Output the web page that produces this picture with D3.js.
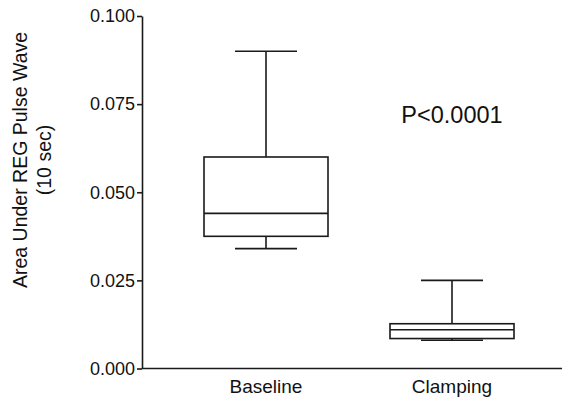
<!DOCTYPE html>
<html>
<head>
<meta charset="utf-8">
<script src="https://cdn.jsdelivr.net/npm/d3@7"></script>
<style>
  html, body { margin: 0; padding: 0; background: #fff; }
  svg { display: block; font-family: "Liberation Sans", Arial, sans-serif; }
</style>
</head>
<body>
<svg id="chart" width="565" height="403"></svg>
<script>
// Box-plot summaries per group
const categories = ["Baseline", "Clamping"];
const whiskerMax = [0.090, 0.025];
const q3 = [0.060, 0.0127];
const median = [0.044, 0.011];
const q1 = [0.0375, 0.0085];
const whiskerMin = [0.034, 0.008];
const yTicks = [0.000, 0.025, 0.050, 0.075, 0.100];
const annotation = "P<0.0001";

const svg = d3.select("#chart");
const stroke = "#1a1a1a";

const axisX = 142, axisY0 = 368.5, axisTop = 16, axisRight = 562;

const y = d3.scaleLinear().domain([0, 0.1]).range([axisY0, axisTop]);
const x = d3.scalePoint().domain(categories).range([266, 452]);

const boxW = 124, capW = 62;

// Y axis
const yAxis = svg.append("g")
  .attr("transform", `translate(${axisX},0)`)
  .call(d3.axisLeft(y).tickValues(yTicks).tickFormat(d3.format(".3f")).tickSize(5).tickSizeOuter(0).tickPadding(2));
yAxis.select(".domain").attr("stroke", stroke).attr("stroke-width", 1.6);
yAxis.selectAll(".tick line").attr("stroke", stroke).attr("stroke-width", 1.6);
yAxis.selectAll(".tick text").attr("font-size", 18).attr("fill", "#111")
  .attr("font-family", "'Liberation Sans', Arial, sans-serif");

// X axis baseline
svg.append("line")
  .attr("x1", axisX).attr("x2", axisRight)
  .attr("y1", y(0)).attr("y2", y(0))
  .attr("stroke", stroke).attr("stroke-width", 1.6);

// Category labels
svg.selectAll("text.cat").data(categories).join("text")
  .attr("class", "cat")
  .attr("x", d => x(d)).attr("y", y(0) + 24)
  .attr("text-anchor", "middle").attr("font-size", 19).attr("fill", "#111")
  .text(d => d);

// Boxes
const g = svg.append("g").attr("fill", "none").attr("stroke", stroke).attr("stroke-width", 1.6);
categories.forEach((c, i) => {
  const cx = x(c);
  // whiskers
  g.append("line").attr("x1", cx).attr("x2", cx).attr("y1", y(whiskerMax[i])).attr("y2", y(q3[i]));
  g.append("line").attr("x1", cx).attr("x2", cx).attr("y1", y(q1[i])).attr("y2", y(whiskerMin[i]));
  g.append("line").attr("x1", cx - capW / 2).attr("x2", cx + capW / 2).attr("y1", y(whiskerMax[i])).attr("y2", y(whiskerMax[i]));
  g.append("line").attr("x1", cx - capW / 2).attr("x2", cx + capW / 2).attr("y1", y(whiskerMin[i])).attr("y2", y(whiskerMin[i]));
  // box
  g.append("rect").attr("x", cx - boxW / 2).attr("width", boxW)
    .attr("y", y(q3[i])).attr("height", y(q1[i]) - y(q3[i]));
  // median
  g.append("line").attr("x1", cx - boxW / 2).attr("x2", cx + boxW / 2).attr("y1", y(median[i])).attr("y2", y(median[i]));
});

// Significance annotation
svg.append("text")
  .attr("x", x("Clamping")).attr("y", 123)
  .attr("text-anchor", "middle").attr("font-size", 23.5).attr("fill", "#111")
  .text(annotation);

// Y axis title (two lines)
const titleCy = 160;
svg.append("text")
  .attr("transform", `translate(27,${titleCy}) rotate(-90)`)
  .attr("text-anchor", "middle").attr("font-size", 19.5).attr("fill", "#111")
  .text("Area Under REG Pulse Wave");
svg.append("text")
  .attr("transform", `translate(51,${titleCy}) rotate(-90)`)
  .attr("text-anchor", "middle").attr("font-size", 19.5).attr("fill", "#111")
  .text("(10 sec)");
</script>
</body>
</html>
